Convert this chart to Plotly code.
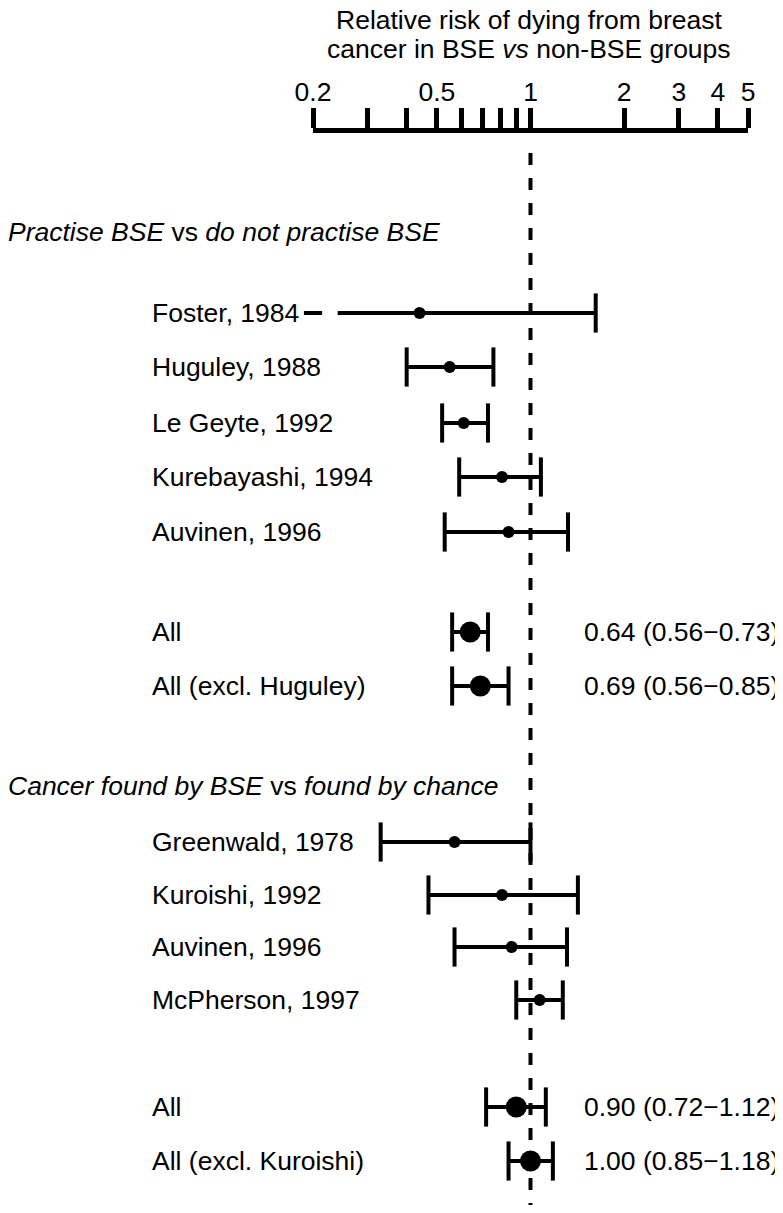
import math
import plotly.graph_objects as go

# ---------- Data ----------
study_labels = ["Foster, 1984", "Huguley, 1988", "Le Geyte, 1992", "Kurebayashi, 1994", "Auvinen, 1996",
                "Greenwald, 1978", "Kuroishi, 1992", "Auvinen, 1996", "McPherson, 1997"]
study_rr = [0.44, 0.55, 0.61, 0.81, 0.85, 0.57, 0.81, 0.87, 1.07]
study_lo = [0.24, 0.40, 0.52, 0.59, 0.53, 0.33, 0.47, 0.57, 0.90]
study_hi = [1.62, 0.76, 0.73, 1.08, 1.32, 1.00, 1.42, 1.31, 1.27]
study_lo_cap = [False, True, True, True, True, True, True, True, True]

pooled_labels = ["All", "All (excl. Huguley)", "All", "All (excl. Kuroishi)"]
pooled_rr = [0.64, 0.69, 0.90, 1.00]
pooled_lo = [0.56, 0.56, 0.72, 0.85]
pooled_hi = [0.73, 0.85, 1.12, 1.18]

section_titles = ["<i>Practise BSE</i> vs <i>do not practise BSE</i>",
                  "<i>Cancer found by BSE</i> vs <i>found by chance</i>"]
axis_title = ["Relative risk of dying from breast", "cancer in BSE <i>vs</i> non-BSE groups"]

x_min, x_max = 0.2, 5
tick_vals = [0.2, 0.3, 0.4, 0.5, 0.6, 0.7, 0.8, 0.9, 1, 2, 3, 4, 5]
tick_text = ["0.2", "", "", "0.5", "", "", "", "", "1", "2", "3", "4", "5"]

# ---------- Layout (page px; the page body adds an 8px offset) ----------
OFF = 8
W, H = 783 - OFF, 1213 - 2 * OFF
TOP = 133
study_y = [313, 367, 423, 477, 532, 842, 895, 947, 1000]
pooled_y = [632, 686, 1107, 1161]
section_y = [232, 786]


def px(x):
    return (x - OFF) / W


FONT = "Liberation Sans, Arial, Helvetica, sans-serif"
FS = 26.5

fig = go.Figure()

# whiskers
wx, wy = [], []
for lo, hi, y in zip(study_lo + pooled_lo, study_hi + pooled_hi, study_y + pooled_y):
    wx += [lo, hi, None]
    wy += [y, y, None]
fig.add_trace(go.Scatter(x=wx, y=wy, mode="lines", line=dict(color="black", width=4),
                         hoverinfo="skip", showlegend=False))

# caps
cx, cy = [], []
for lo, hi, y, cap in zip(study_lo + pooled_lo, study_hi + pooled_hi, study_y + pooled_y,
                          study_lo_cap + [True] * len(pooled_lo)):
    if cap:
        cx.append(lo)
        cy.append(y)
    cx.append(hi)
    cy.append(y)
fig.add_trace(go.Scatter(x=cx, y=cy, mode="markers",
                         marker=dict(symbol="line-ns", size=28, line=dict(color="black", width=4)),
                         hoverinfo="skip", showlegend=False))

# Foster's lower limit is off the scale: short dash at the left end
fig.add_trace(go.Scatter(x=[x_min], y=[study_y[0]], mode="markers", cliponaxis=False,
                         marker=dict(symbol="line-ew", size=13, line=dict(color="black", width=4)),
                         hoverinfo="skip", showlegend=False))

# point estimates
fig.add_trace(go.Scatter(x=study_rr, y=study_y, mode="markers",
                         marker=dict(symbol="circle", size=12, color="black"), showlegend=False))
fig.add_trace(go.Scatter(x=pooled_rr, y=pooled_y, mode="markers",
                         marker=dict(symbol="circle", size=21, color="black"), showlegend=False))

# dashed line at RR = 1
fig.add_shape(type="line", xref="x", yref="y", x0=1, x1=1, y0=153, y1=1213,
              line=dict(color="black", width=4, dash="12px,13px"), layer="below")

annotations = []
for lab, y in zip(study_labels + pooled_labels, study_y + pooled_y):
    annotations.append(dict(x=px(150), y=y, xref="paper", yref="y", text=lab, showarrow=False,
                            xanchor="left", yanchor="middle"))
for lab, y in zip(section_titles, section_y):
    annotations.append(dict(x=0, y=y, xref="paper", yref="y", text=lab, showarrow=False,
                            xanchor="left", yanchor="middle", xshift=-2))
for rr, lo, hi, y in zip(pooled_rr, pooled_lo, pooled_hi, pooled_y):
    annotations.append(dict(x=px(582), y=y, xref="paper", yref="y",
                            text=f"{rr:.2f} ({lo:.2f}\u2212{hi:.2f})", showarrow=False,
                            xanchor="left", yanchor="middle"))
for line, cy_ in zip(axis_title, [20, 49]):
    annotations.append(dict(x=px(529), y=1, xref="paper", yref="paper", text=line,
                            showarrow=False, xanchor="center", yanchor="middle",
                            borderpad=0, yshift=TOP - cy_))

fig.update_layout(
    width=W, height=H,
    margin=dict(l=0, r=0, t=TOP - OFF, b=0, autoexpand=False),
    paper_bgcolor="white", plot_bgcolor="white",
    font=dict(family=FONT, size=FS, color="black"),
    annotations=annotations,
    showlegend=False,
)
fig.update_xaxes(type="log", range=[math.log10(x_min), math.log10(x_max)], domain=[px(313), px(748)],
                 side="top", showline=True, linewidth=5, linecolor="black",
                 ticks="outside", ticklen=20, tickwidth=5, tickcolor="black",
                 tickvals=tick_vals, ticktext=tick_text, tickfont=dict(size=FS),
                 ticklabelstandoff=-4,
                 showgrid=False, zeroline=False, fixedrange=True, automargin=False)
fig.update_yaxes(range=[TOP + H - (TOP - OFF), TOP], visible=False, showgrid=False,
                 zeroline=False, fixedrange=True, automargin=False)

fig.write_html("out.html")
